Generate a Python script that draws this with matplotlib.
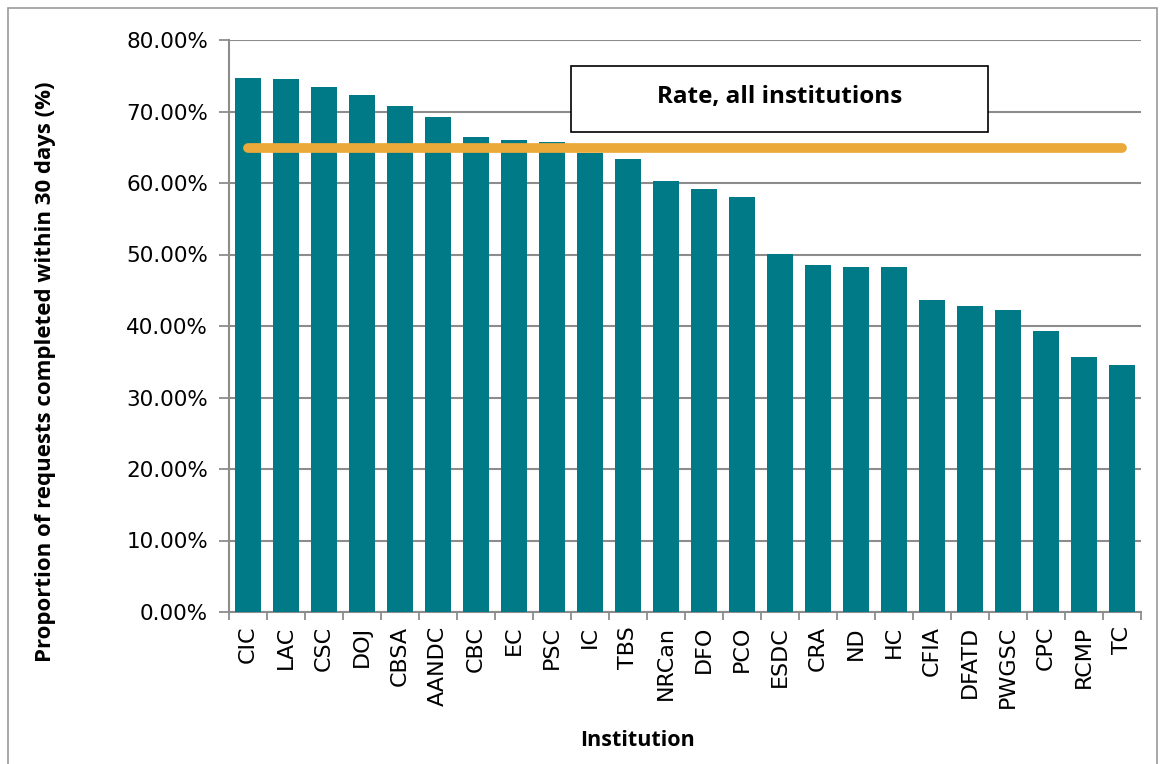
import matplotlib
matplotlib.use('Agg')
import matplotlib.pyplot as plt
from matplotlib.patches import Rectangle

institutions = ['CIC', 'LAC', 'CSC', 'DOJ', 'CBSA', 'AANDC', 'CBC', 'EC', 'PSC', 'IC',
                'TBS', 'NRCan', 'DFO', 'PCO', 'ESDC', 'CRA', 'ND', 'HC', 'CFIA', 'DFATD',
                'PWGSC', 'CPC', 'RCMP', 'TC']
rates = [74.7, 74.5, 73.4, 72.3, 70.7, 69.2, 66.5, 66.0, 65.7, 64.2,
         63.4, 60.3, 59.2, 58.1, 50.1, 48.6, 48.3, 48.3, 43.6, 42.8,
         42.3, 39.3, 35.6, 34.5]
overall_rate = 64.9
overall_label = 'Rate, all institutions'

teal = '#007A87'
orange = '#EBA93A'
grey = '#8C8C8C'

fig = plt.figure(figsize=(11.61, 7.64), dpi=100)
ax = fig.add_axes([229/1161, 1 - 612/764, (1141-229)/1161, (612-40)/764])

x = list(range(len(institutions)))
ax.bar(x, rates, width=0.68, color=teal, zorder=3)
ax.plot([0, len(institutions) - 1], [overall_rate, overall_rate], color=orange,
        lw=7, solid_capstyle='round', zorder=4)

# label box
ax.add_patch(Rectangle((8.5, 67.1), 10.97, 9.3, facecolor='white', edgecolor='black',
                       lw=1.2, zorder=5))
ax.text(8.5 + 10.97/2, 67.1 + 9.3/2 + 0.3, overall_label, ha='center', va='center',
        fontsize=17.5, fontweight='bold', family='Open Sans', zorder=6)

ax.set_xlim(-0.5, len(institutions) - 0.5)
ax.set_ylim(0, 80)
ax.set_yticks(range(0, 81, 10))
ax.set_yticklabels(['%.2f%%' % v for v in range(0, 81, 10)], fontsize=15.5)
ax.set_xticks(x)
ax.set_xticklabels(institutions, rotation=90, fontsize=16)
ax.set_xticks([i - 0.5 for i in range(len(institutions) + 1)], minor=True)
ax.tick_params(axis='x', which='major', length=0, pad=10)
ax.tick_params(axis='x', which='minor', length=6, color=grey, width=1.3)
ax.tick_params(axis='y', length=7, color=grey, width=1.3, pad=8)
ax.yaxis.grid(True, color=grey, lw=1.5, zorder=0)

for s in ['top', 'right']:
    ax.spines[s].set_visible(False)
for s in ['left', 'bottom']:
    ax.spines[s].set_color(grey)
    ax.spines[s].set_linewidth(1.5)

ax.set_ylabel('Proportion of requests completed within 30 days (%)', fontsize=16,
              fontweight='bold', family='Open Sans')
ax.yaxis.set_label_coords(-0.19, 0.42)
ax.set_xlabel('Institution', fontsize=15.5, fontweight='bold', family='Open Sans')
ax.xaxis.set_label_coords(0.448, -0.207)

fig.patches.append(Rectangle((8/1161, -0.01), (1157-8)/1161, 1 - 8/764 + 0.01,
                             transform=fig.transFigure, fill=False, edgecolor='#999999',
                             lw=1.2))

fig.savefig('out.png', dpi=100)
